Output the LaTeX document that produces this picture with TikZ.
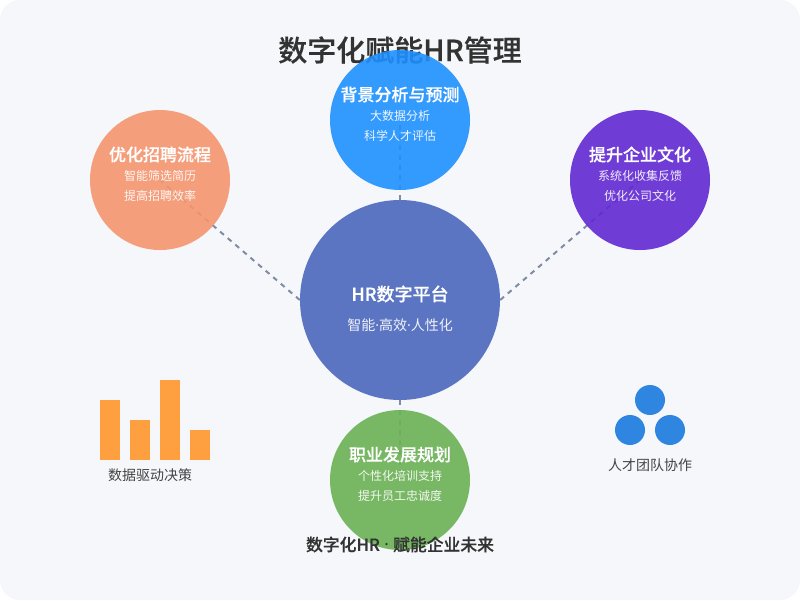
\documentclass[tikz,border=0pt]{standalone}
\usepackage{fontspec}
\setmainfont{Noto Sans CJK SC}
\newfontfamily\medf[FakeBold=0.5]{Noto Sans CJK SC Medium}
\newfontfamily\latf{Noto Sans}
\definecolor{pagebg}{HTML}{F5F7FB}
\definecolor{hubc}{HTML}{5B75C2}
\definecolor{bluec}{HTML}{1E90FF}
\definecolor{orangec}{HTML}{F4956F}
\definecolor{purplec}{HTML}{6228D2}
\definecolor{greenc}{HTML}{6BB255}
\definecolor{linkc}{HTML}{7F8CA3}
\definecolor{barc}{HTML}{FFA040}
\definecolor{dotc}{HTML}{2F86E0}
\definecolor{inkc}{HTML}{333333}
\definecolor{labc}{HTML}{444444}
\tikzset{
 x=1pt,y=-1pt,
 satc/.style={circle,inner sep=0pt,minimum size=140pt,fill opacity=0.9,draw=none},
 linkl/.style={draw=linkc,line width=2pt,dash pattern=on 5pt off 5pt},
 headt/.style={text=white,font=\fontsize{17}{17}\medf,inner sep=0pt},
 subt/.style={text=white,text opacity=0.9,font=\fontsize{12}{12}\selectfont,inner sep=0pt},
 dotn/.style={circle,fill=dotc,inner sep=0pt,minimum size=30pt},
 capt/.style={text=labc,font=\fontsize{14}{14}\selectfont,inner sep=0pt},
}
\begin{document}
\begin{tikzpicture}
\useasboundingbox (0,0) rectangle (800,600);
\fill[white] (0,0) rectangle (800,600);
\fill[pagebg,rounded corners=20pt] (0,0) rectangle (800,600);
\node[text=inkc,font=\fontsize{29}{29}\medf,inner sep=0pt] (title) at (400,50) {数字化赋能HR管理};
\node[circle,fill=hubc,inner sep=0pt,minimum size=200pt] (hub) at (400,300) {};
\coordinate (topend) at (400,120);
\coordinate (leftend) at (160,180);
\coordinate (rightend) at (640,180);
\coordinate (botend) at (400,480);
\draw[linkl] (hub.north) -- (topend);
\draw[linkl] (hub.west) -- (leftend);
\draw[linkl] (hub.east) -- (rightend);
\draw[linkl] (hub.south) -- (botend);
\node[satc,fill=bluec] (top) at (400,120) {};
\node[satc,fill=orangec] (left) at (160,180) {};
\node[satc,fill=purplec] (right) at (640,180) {};
\node[satc,fill=greenc] (bot) at (400,480) {};
\node[headt] (toph) at (400,94.5) {背景分析与预测};
\node[subt] (tops1) at (400,116) {大数据分析};
\node[subt] (tops2) at (400,136) {科学人才评估};
\node[headt] (lefth) at (160,154.5) {优化招聘流程};
\node[subt] (lefts1) at (160,176) {智能筛选简历};
\node[subt] (lefts2) at (160,196) {提高招聘效率};
\node[headt] (righth) at (640,154.5) {提升企业文化};
\node[subt] (rights1) at (640,176) {系统化收集反馈};
\node[subt] (rights2) at (640,196) {优化公司文化};
\node[headt] (both) at (400,454.5) {职业发展规划};
\node[subt] (bots1) at (400,476) {个性化培训支持};
\node[subt] (bots2) at (400,496) {提升员工忠诚度};
\node[text=white,font=\fontsize{18}{18}\medf,inner sep=0pt] (hubh) at (400,294) {HR数字平台};
\node[text=white,text opacity=0.9,font=\fontsize{14}{14}\selectfont,inner sep=0pt] (hubs) at (400,325) {智能{\latf ·}高效{\latf ·}人性化};
\fill[barc] (100,400) rectangle (120,460);
\fill[barc] (130,420) rectangle (150,460);
\fill[barc] (160,380) rectangle (180,460);
\fill[barc] (190,430) rectangle (210,460);
\node[capt] (barcap) at (150,475) {数据驱动决策};
\node[dotn] (d1) at (650,400) {};
\node[dotn] (d2) at (630,430) {};
\node[dotn] (d3) at (670,430) {};
\node[capt] (dotcap) at (650,465) {人才团队协作};
\node[text=inkc,font=\fontsize{16.8}{17}\medf,inner sep=0pt] (foot) at (400,544.5) {数字化HR{\latf\ ·\ }赋能企业未来};
\end{tikzpicture}
\end{document}
